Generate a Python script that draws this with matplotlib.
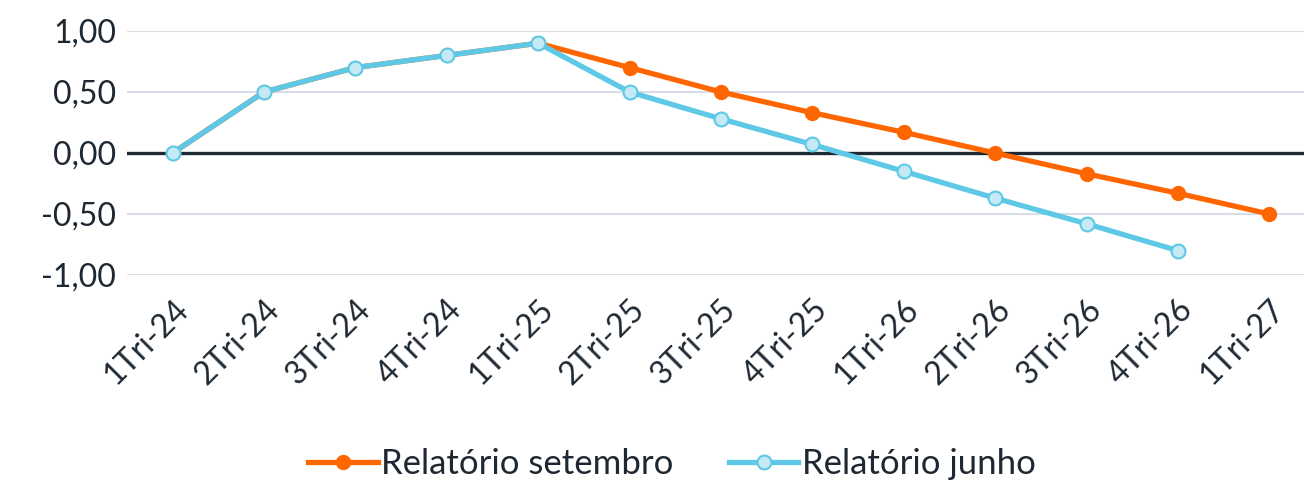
import numpy as np
import matplotlib
matplotlib.use("Agg")
import matplotlib.pyplot as plt

plt.rcParams['font.family'] = ['Lato', 'DejaVu Sans']

categorias = ["1Tri-24", "2Tri-24", "3Tri-24", "4Tri-24", "1Tri-25", "2Tri-25", "3Tri-25",
              "4Tri-25", "1Tri-26", "2Tri-26", "3Tri-26", "4Tri-26", "1Tri-27"]
setembro = [0.0, 0.50, 0.70, 0.80, 0.90, 0.70, 0.50, 0.33, 0.17, 0.0, -0.17, -0.33, -0.50]
junho = [0.0, 0.50, 0.70, 0.80, 0.90, 0.50, 0.28, 0.07, -0.15, -0.37, -0.58, -0.80]
yticks = [-1.0, -0.5, 0.0, 0.5, 1.0]

fig = plt.figure(figsize=(13.04, 4.82), dpi=100)
ax = fig.add_axes([127/1304, 1 - 275/482, 1 - 127/1304, (275 - 31)/482])

x = np.arange(len(categorias))
ax.plot(x, setembro, color="#ff6600", lw=3.8, marker="o", ms=10,
        mfc="#ff6600", mec="#ff6600", label="Relatório setembro", zorder=3, clip_on=False)
ax.plot(x[:len(junho)], junho, color="#5ec9e7", lw=3.8, marker="o", ms=10,
        mfc="#c6e9f6", mec="#5ec9e7", mew=1.5, label="Relatório junho", zorder=4, clip_on=False)

ax.axhline(0, color="#1e2832", lw=2.4, zorder=2)
ax.set_ylim(-1.0, 1.0)
ax.set_xlim(-0.5, 12.38)
ax.set_yticks(yticks)
ax.set_yticklabels([f"{v:.2f}".replace(".", ",") for v in yticks], fontsize=23, color="#1e2832")
ax.set_xticks(x)
ax.set_xticklabels(categorias, rotation=45, ha="right", rotation_mode="anchor",
                   fontsize=23, color="#1e2832")
ax.tick_params(length=0, pad=8)
ax.tick_params(axis="x", pad=14)
ax.grid(axis="y", color="#d9dde7", lw=1.5, zorder=0)
for s in ax.spines.values():
    s.set_visible(False)

fig.legend(loc="center", bbox_to_anchor=(672/1304, 1 - 464/482), ncol=2, frameon=False,
           fontsize=25, handlelength=2.0, handletextpad=0.1, columnspacing=1.6,
           labelcolor="#1e2832")

fig.savefig("out.png", dpi=100)
